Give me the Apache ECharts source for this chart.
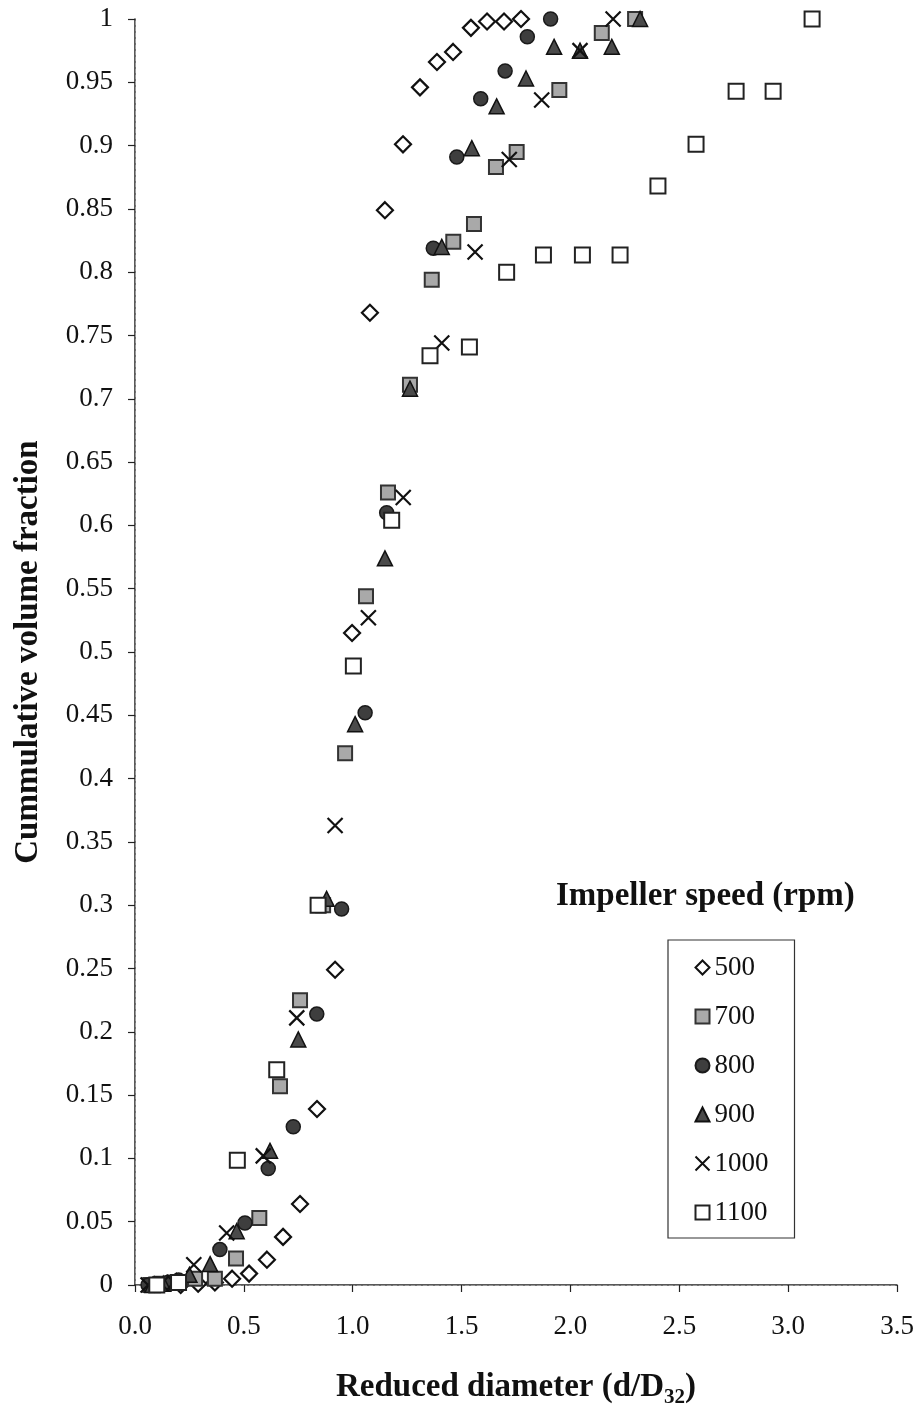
<!DOCTYPE html>
<html>
<head>
<meta charset="utf-8">
<script src="https://cdn.jsdelivr.net/npm/echarts@6/dist/echarts.min.js"></script>
<style>
  html, body { margin: 0; padding: 0; background: #fff; }
  #chart { width: 918px; height: 1413px; }
</style>
</head>
<body>
<div id="chart"></div>
<script>
// ---- Data (x = reduced diameter d/D32, y = cumulative volume fraction) ----
const xTicks = [0.0, 0.5, 1.0, 1.5, 2.0, 2.5, 3.0, 3.5];
const speedNames = ['500', '700', '800', '900', '1000', '1100'];

const rpm500 = [
  [0.21, 0.0], [0.29, 0.001], [0.367, 0.002], [0.446, 0.005], [0.524, 0.009],
  [0.606, 0.020], [0.680, 0.038], [0.758, 0.064], [0.836, 0.139], [0.919, 0.249],
  [0.997, 0.515], [1.079, 0.768], [1.148, 0.849], [1.231, 0.901], [1.309, 0.946],
  [1.387, 0.966], [1.461, 0.974], [1.543, 0.993], [1.617, 0.998], [1.695, 0.998],
  [1.773, 1.0]
];
const rpm700 = [
  [0.07, 0.0], [0.12, 0.001], [0.18, 0.002], [0.276, 0.005], [0.367, 0.005],
  [0.464, 0.021], [0.571, 0.053], [0.666, 0.157], [0.758, 0.225], [0.864, 0.300],
  [0.965, 0.420], [1.061, 0.544], [1.162, 0.626], [1.263, 0.711], [1.363, 0.794],
  [1.462, 0.824], [1.557, 0.838], [1.658, 0.883], [1.753, 0.895], [1.949, 0.944],
  [2.144, 0.989], [2.297, 1.0]
];
const rpm800 = [
  [0.06, 0.0], [0.10, 0.001], [0.15, 0.002], [0.20, 0.004], [0.39, 0.028],
  [0.505, 0.049], [0.612, 0.092], [0.727, 0.125], [0.835, 0.214], [0.949, 0.297],
  [1.057, 0.452], [1.156, 0.610], [1.370, 0.819], [1.478, 0.891], [1.588, 0.937],
  [1.700, 0.959], [1.802, 0.986], [1.909, 1.0]
];
const rpm900 = [
  [0.08, 0.0], [0.13, 0.001], [0.19, 0.003], [0.25, 0.008], [0.345, 0.0165],
  [0.467, 0.0425], [0.620, 0.106], [0.750, 0.194], [0.880, 0.305], [1.011, 0.443],
  [1.148, 0.574], [1.263, 0.708], [1.409, 0.820], [1.547, 0.898], [1.661, 0.931],
  [1.796, 0.953], [1.925, 0.978], [2.044, 0.975], [2.190, 0.978], [2.320, 1.0]
];
const rpm1000 = [
  [0.06, 0.0], [0.12, 0.001], [0.18, 0.002], [0.27, 0.016], [0.421, 0.041],
  [0.589, 0.102], [0.743, 0.211], [0.919, 0.363], [1.072, 0.527], [1.232, 0.622],
  [1.409, 0.744], [1.562, 0.816], [1.719, 0.889], [1.868, 0.936], [2.044, 0.975],
  [2.196, 1.0]
];
const rpm1100 = [
  [0.10, 0.0], [0.20, 0.002], [0.470, 0.0985], [0.651, 0.170], [0.841, 0.300],
  [1.003, 0.489], [1.179, 0.604], [1.355, 0.734], [1.536, 0.741], [1.707, 0.800],
  [1.876, 0.8135], [2.055, 0.8135], [2.228, 0.8135], [2.402, 0.868], [2.577, 0.901],
  [2.761, 0.943], [2.931, 0.943], [3.110, 1.0]
];

const SERIF = '"Liberation Serif", "Times New Roman", serif';
const crossPath = 'path://M0,0 L10,10 M10,0 L0,10';

const chart = echarts.init(document.getElementById('chart'), null, { renderer: 'canvas' });

function sc(name, data, symbol, size, fill, border, bw) {
  return {
    name: name, type: 'scatter', data: data,
    symbol: symbol, symbolSize: size,
    itemStyle: { color: fill, borderColor: border, borderWidth: bw, opacity: 1 },
    emphasis: { disabled: true },
    animation: false
  };
}

const option = {
  backgroundColor: '#ffffff',
  animation: false,
  grid: { left: 135, right: 21, top: 19, bottom: 124, containLabel: false },
  title: {
    text: 'Impeller speed (rpm)',
    left: 551, top: 875,
    textStyle: { fontFamily: SERIF, fontWeight: 'bold', fontSize: 33, color: '#111' }
  },
  legend: {
    data: speedNames,
    orient: 'vertical',
    left: 668, top: 940,
    padding: [14, 26, 12, 25],
    itemGap: 22,
    itemWidth: 14, itemHeight: 14,
    backgroundColor: '#fff',
    borderColor: '#333', borderWidth: 1.2,
    textStyle: { fontFamily: SERIF, fontSize: 27, color: '#111', lineHeight: 27 }
  },
  xAxis: [{
    type: 'value', min: 0, max: 3.5, interval: 0.5,
    name: '{a|Reduced diameter (d/D}{s|32}{a|)}',
    nameLocation: 'middle', nameGap: 100,
    nameTextStyle: {
      verticalAlign: 'middle',
      rich: {
        a: { fontFamily: SERIF, fontWeight: 'bold', fontSize: 33, color: '#111', lineHeight: 38, verticalAlign: 'bottom' },
        s: { fontFamily: SERIF, fontWeight: 'bold', fontSize: 21, color: '#111', lineHeight: 21, verticalAlign: 'bottom', padding: [0, 0, -4, 0] }
      }
    },
    splitLine: { show: false },
    axisLine: { show: true, onZero: false, lineStyle: { color: '#222', width: 1.5 } },
    axisTick: { show: true, inside: false, length: 7, lineStyle: { color: '#222', width: 1.2 } },
    axisLabel: {
      margin: 28, fontFamily: SERIF, fontSize: 27, color: '#111',
      formatter: function (v) { return xTicks.indexOf(v) >= 0 ? v.toFixed(1) : ''; }
    }
  }, {
    type: 'value', min: 0, max: 3.5, position: 'top',
    axisLine: { show: true, lineStyle: { color: '#999', width: 1, type: 'dashed' } },
    axisTick: { show: false }, axisLabel: { show: false }, splitLine: { show: false }
  }],
  yAxis: [{
    type: 'value', min: 0, max: 1, interval: 0.05,
    name: 'Cummulative volume fraction',
    nameLocation: 'middle', nameGap: 107, nameRotate: 90,
    nameTextStyle: { fontFamily: SERIF, fontWeight: 'bold', fontSize: 33, color: '#111', verticalAlign: 'middle' },
    splitLine: { show: false },
    axisLine: { show: true, onZero: false, lineStyle: { color: '#222', width: 1.5 } },
    axisTick: { show: true, inside: false, length: 7, lineStyle: { color: '#222', width: 1.2 } },
    axisLabel: { margin: 22, fontFamily: SERIF, fontSize: 27, color: '#111' }
  }, {
    type: 'value', min: 0, max: 1, position: 'right',
    axisLine: { show: true, lineStyle: { color: '#999', width: 1, type: 'dashed' } },
    axisTick: { show: false }, axisLabel: { show: false }, splitLine: { show: false }
  }],
  series: [
    sc(speedNames[0], rpm500, 'diamond', 16, '#ffffff', '#111', 2.2),
    sc(speedNames[1], rpm700, 'rect', 14, '#a9a9a9', '#333', 2),
    sc(speedNames[2], rpm800, 'circle', 14, '#3e3e3e', '#1a1a1a', 1.5),
    sc(speedNames[3], rpm900, 'triangle', 15, '#4a4a4a', '#111', 1.5),
    sc(speedNames[4], rpm1000, crossPath, 15, 'none', '#111', 2.2),
    sc(speedNames[5], rpm1100, 'rect', 15, '#ffffff', '#222', 2)
  ]
};

chart.setOption(option);
</script>
</body>
</html>
